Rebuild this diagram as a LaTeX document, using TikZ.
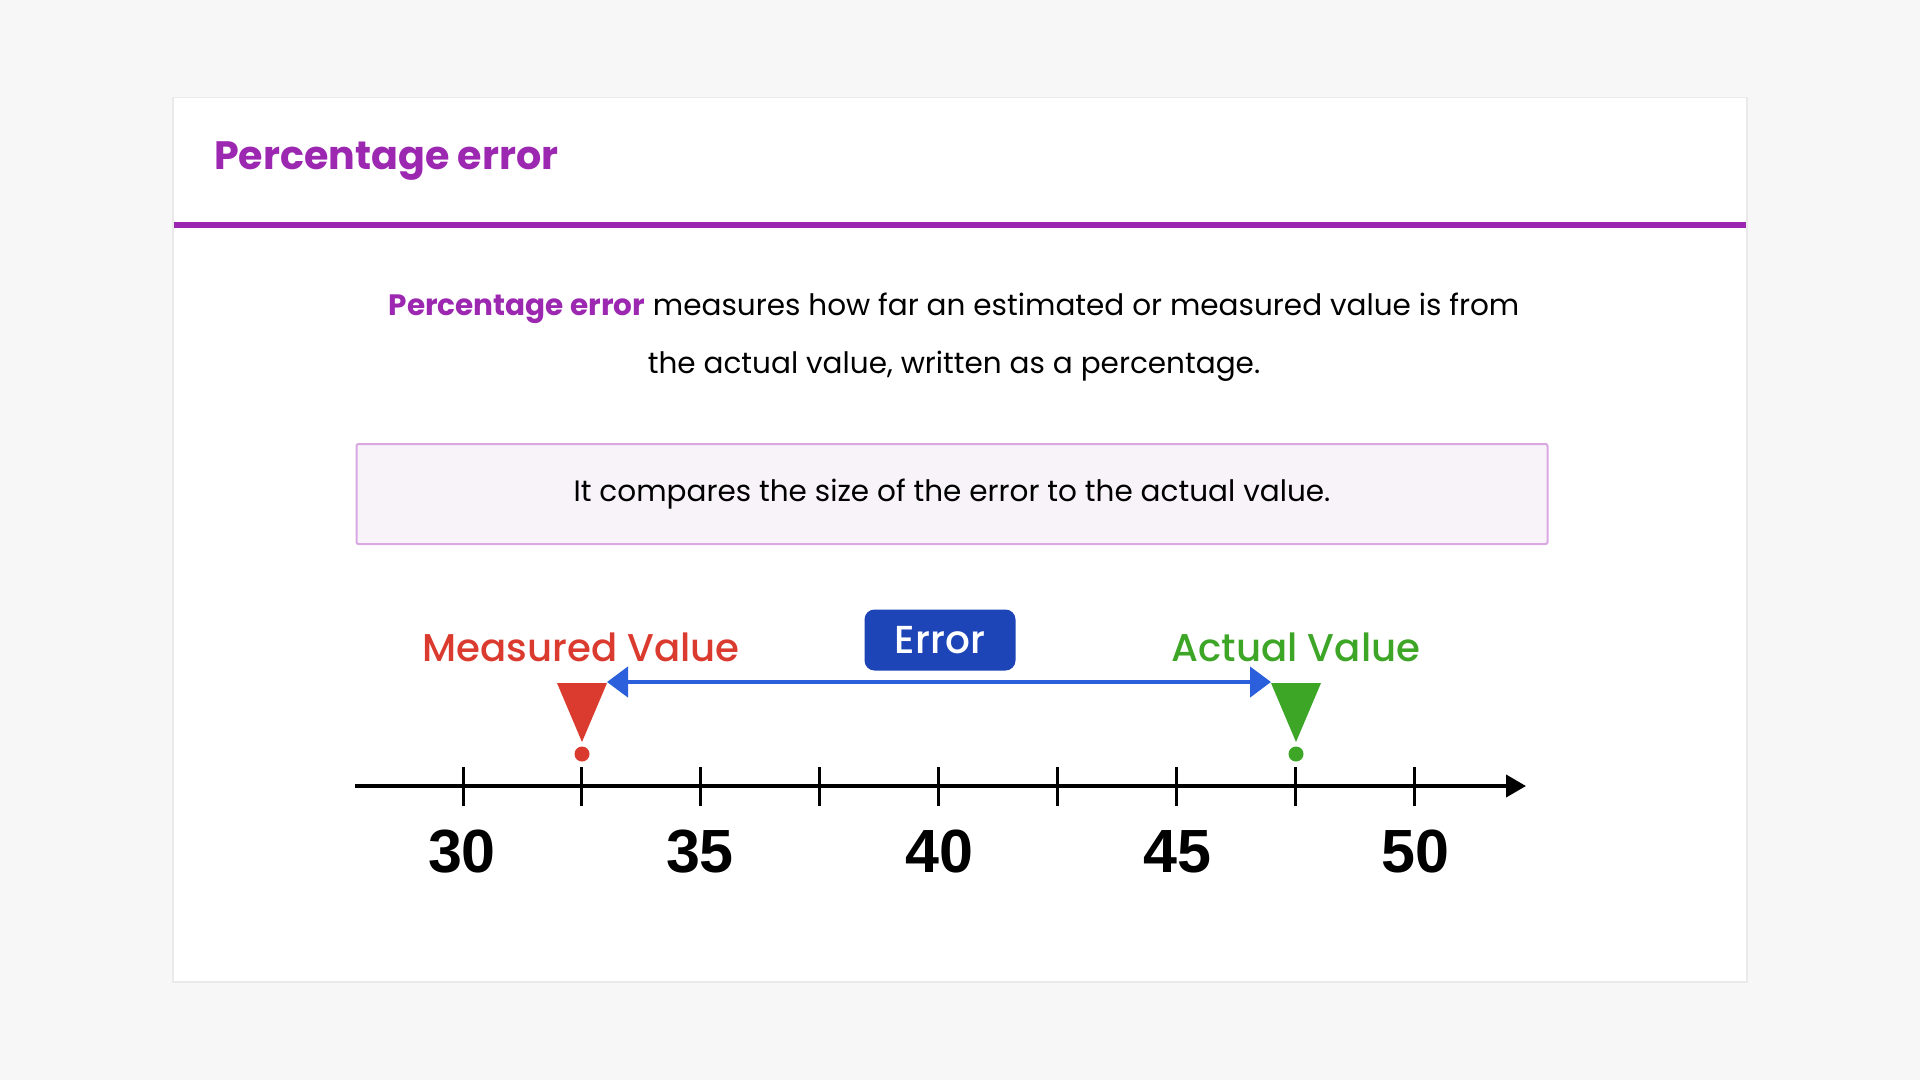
\documentclass[tikz,border=0pt]{standalone}
\usepackage{fontspec}
\setmainfont{Poppins}
\newfontfamily\popmed{Poppins Medium}
\newfontfamily\numfont{Liberation Sans}
\usetikzlibrary{arrows.meta}

\definecolor{pagebg}{HTML}{F7F7F7}
\definecolor{cardshadow}{HTML}{EAEAEA}
\definecolor{mainpurple}{HTML}{9C27B0}
\definecolor{notefill}{HTML}{F8F3F9}
\definecolor{notedraw}{HTML}{D9A8E2}
\definecolor{mred}{HTML}{DB3B2F}
\definecolor{agreen}{HTML}{3DA626}
\definecolor{errline}{HTML}{2B5FDB}
\definecolor{errbox}{HTML}{1D45B7}

\tikzset{
  bodytext/.style={font=\fontsize{29.5}{36}\selectfont, text=black, inner sep=0pt},
  ticklabel/.style={font=\numfont\bfseries\fontsize{61}{70}\selectfont, anchor=base, inner sep=0pt},
  valuelabel/.style={font=\popmed\fontsize{38.7}{46}\selectfont, anchor=base, inner sep=0pt},
  axistick/.style={line width=3pt, black},
}

\begin{document}
\begin{tikzpicture}[x=1pt, y=-1pt]
  \useasboundingbox (0,0) rectangle (1920,1080);
  \fill[pagebg] (0,0) rectangle (1920,1080);

  % card
  \fill[cardshadow] (172,97) rectangle (1748,983);
  \fill[white] (174,98) rectangle (1746,981);
  \fill[mainpurple] (174,222) rectangle (1746,228);

  \node[anchor=base west, inner sep=0pt, text=mainpurple,
        font=\bfseries\fontsize{39.6}{48}\selectfont] (title) at (214,169) {Percentage error};

  % definition
  \node[bodytext, anchor=base] (para1) at (954,315)
    {\textcolor{mainpurple}{\bfseries Percentage error} measures how far an estimated or measured value is from};
  \node[bodytext, anchor=base] (para2) at (954,373) {the actual value, written as a percentage.};

  \node[bodytext, draw=notedraw, fill=notefill, line width=2pt, rounded corners=2pt,
        minimum width=1191pt, minimum height=100pt] (note) at (952,494)
    {It compares the size of the error to the actual value.};

  % number line
  \coordinate (axisL) at (355,786);
  \coordinate (axisR) at (1526,786);
  \draw[line width=4pt, -{Triangle[length=20pt, width=22pt]}] (axisL) -- (axisR);
  \foreach \i in {0,...,8}
    \draw[axistick] ({463+118.9*\i},767) -- ++(0,39);

  \node[ticklabel] (n30) at (462,872) {30};
  \node[ticklabel] (n35) at (700,872) {35};
  \node[ticklabel] (n40) at (939,872) {40};
  \node[ticklabel] (n45) at (1177,872) {45};
  \node[ticklabel] (n50) at (1415,872) {50};

  % markers
  \fill[mred] (557,683) -- (607,683) -- (582,742) -- cycle;
  \fill[mred] (582,754) circle (7.5);
  \fill[agreen] (1271,683) -- (1321,683) -- (1296,742) -- cycle;
  \fill[agreen] (1296,754) circle (7.5);

  \node[valuelabel, text=mred] (measured) at (581,661) {Measured Value};
  \node[valuelabel, text=agreen] (actual) at (1296,661) {Actual Value};

  \coordinate (mvtip) at (607,682);
  \coordinate (avtip) at (1271,682);
  \draw[errline, line width=4.5pt,
        {Triangle[length=21pt, width=30pt]}-{Triangle[length=21pt, width=30pt]}] (mvtip) -- (avtip);

  \node[fill=errbox, text=white, rounded corners=10pt, minimum width=151pt, minimum height=61pt,
        inner sep=0pt, font=\popmed\fontsize{39}{46}\selectfont] (err) at (940,640) {Error};
\end{tikzpicture}
\end{document}
